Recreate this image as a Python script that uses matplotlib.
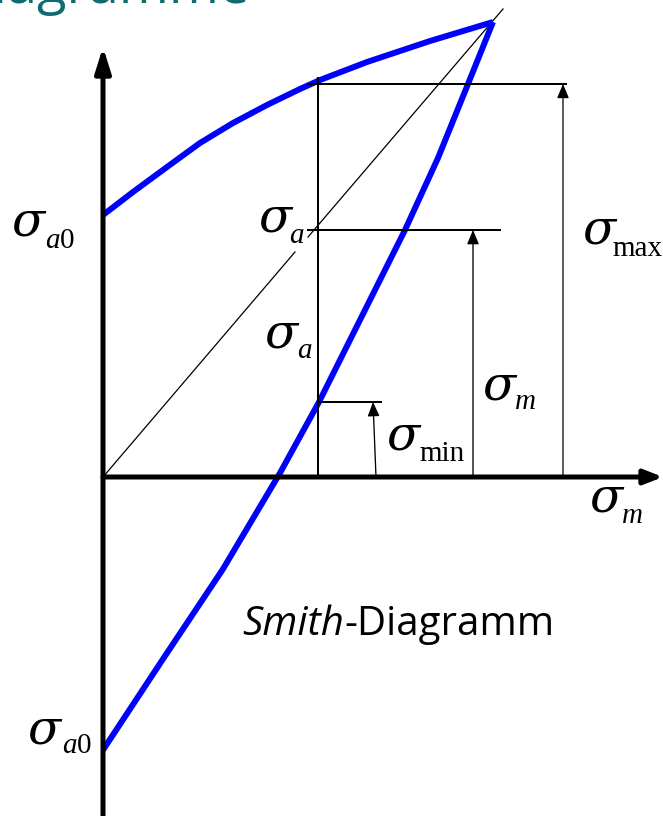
import matplotlib.pyplot as plt
from matplotlib.patches import FancyArrowPatch

# Smith-Diagramm: Grenzlinien (Oberspannung / Unterspannung) über der Mittelspannung
upper_sm = [0, 30, 64, 97, 130, 164, 197, 217, 264, 327, 390]
upper_s = [262, 285, 310, 334, 354, 372, 388, 397, 415, 436, 455]
lower_sm = [0, 60, 120, 177, 216, 302, 335, 365, 390]
lower_s = [-273, -182, -92, 4, 75, 247, 319, 393, 455]

# Winkelhalbierende sigma = sigma_m (mit Lücke hinter der Beschriftung)
diag_sm = [[0, 192], [205, 400]]
diag_s = [[0, 225], [240, 468]]

# gewählter Betriebspunkt
sm_sel = 215
s_max, s_mid, s_min = 393, 247, 75

serif = "Liberation Serif"
blue = "#0000ff"

fig = plt.figure(figsize=(6.63, 8.16), dpi=100)
ax = fig.add_axes([0, 0, 1, 1])
ax.set_xlim(-103, 560)
ax.set_ylim(-339, 477)
ax.axis("off")


def arrow(x0, y0, x1, y1, lw, hl, hw):
    ax.add_patch(FancyArrowPatch((x0, y0), (x1, y1),
                                 arrowstyle=f"-|>,head_length={hl},head_width={hw}",
                                 mutation_scale=1, lw=lw, color="black",
                                 shrinkA=0, shrinkB=0, zorder=3))


def sigma(x, y, sub_x, sub_y, sub_it="", sub_rm=""):
    ax.text(x, y, "σ", fontsize=35, family="DejaVu Serif", style="italic",
            ha="left", va="baseline")
    t = ax.text(sub_x, sub_y, sub_it if sub_it else sub_rm, fontsize=21,
                family=serif, style="italic" if sub_it else "normal",
                ha="left", va="baseline")
    if sub_it and sub_rm:
        ax.annotate(sub_rm, xy=(1, 0), xycoords=t, fontsize=21, family=serif,
                    ha="left", va="bottom")


# Achsen
arrow(0, -339, 0, 430, 3.6, 15, 4.7)
arrow(0, 0, 560, 0, 3.6, 11, 4.3)

# Grenzkurven
ax.plot(upper_sm, upper_s, color=blue, lw=4.3, solid_capstyle="butt", zorder=2)
ax.plot(lower_sm, lower_s, color=blue, lw=4.3, solid_capstyle="butt", zorder=2)

for xs, ys in zip(diag_sm, diag_s):
    ax.plot(xs, ys, color="black", lw=0.9, zorder=1)

# Hilfslinien am Betriebspunkt
ax.plot([sm_sel, sm_sel], [0, s_max + 6], color="black", lw=1.45)
ax.plot([sm_sel - 10, 463], [s_max, s_max], color="black", lw=1.45)
ax.plot([sm_sel - 10, 397], [s_mid, s_mid], color="black", lw=1.45)
ax.plot([sm_sel, 278], [s_min, s_min], color="black", lw=1.45)

# Spannungspfeile
arrow(460, 0, 460, s_max, 0.9, 8.6, 3.6)
arrow(370, 0, 370, s_mid, 0.95, 8.6, 3.6)
arrow(273, 0, 270, s_min, 0.95, 8.6, 3.6)

# Beschriftungen
sigma(-91, 242, -58, 229, "a", "0")
sigma(156, 245, 186, 234, "a")
sigma(162, 129, 194, 119, "a")
sigma(480, 234, 509, 221, sub_rm="max")
sigma(380, 77, 412, 68, "m")
sigma(284, 27, 316, 16, sub_rm="min")
sigma(487, -35, 519, -46, "m")
sigma(-75, -266, -41, -276, "a", "0")

t = ax.text(139, -158, "Smith", fontsize=29, family="Open Sans", style="italic",
            ha="left", va="baseline")
ax.annotate("-Diagramm", xy=(1, 0), xycoords=t, fontsize=29, family="Open Sans",
            ha="left", va="bottom")

ax.text(147, 474, "Diagramme", fontsize=39, family="Open Sans", color="#0f6b70",
        ha="right", va="baseline")

fig.savefig("out.png", dpi=100, facecolor="white")
